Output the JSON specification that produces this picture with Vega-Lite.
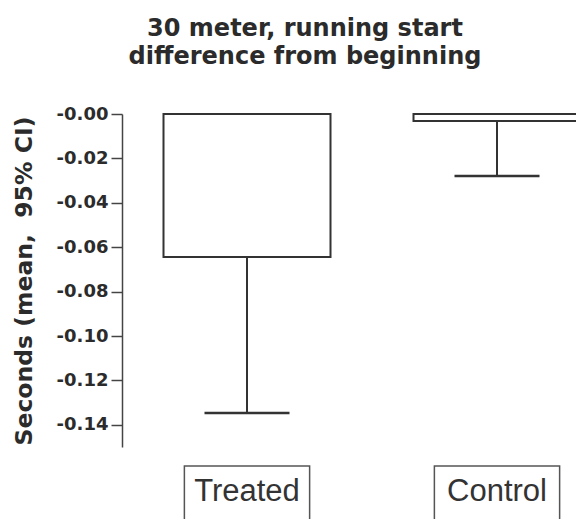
{
  "$schema": "https://vega.github.io/schema/vega-lite/v6.json",
  "width": 454,
  "height": 333,
  "autosize": {"type": "none"},
  "padding": {"left": 122, "top": 114, "right": 0, "bottom": 72},
  "background": "white",
  "config": {"view": {"stroke": null}},
  "title": {
    "text": ["30 meter, running start", "difference from beginning"],
    "font": "DejaVu Sans",
    "fontSize": 24,
    "fontWeight": "bold",
    "color": "#2b2b2b",
    "lineHeight": 28,
    "anchor": "middle",
    "dx": -44,
    "offset": 36
  },
  "data": {
    "values": [
      {"group": "Treated", "mean": -0.0644, "lower": -0.1347},
      {"group": "Control", "mean": -0.0032, "lower": -0.0279}
    ]
  },
  "encoding": {
    "x": {
      "field": "group",
      "type": "nominal",
      "sort": ["Treated", "Control"],
      "scale": {"range": [0, 500], "paddingInner": 0.332, "paddingOuter": 0.166},
      "axis": {
        "title": null,
        "domain": false,
        "ticks": false,
        "tickSize": 0,
        "labelAngle": 0,
        "labelFont": "Liberation Sans",
        "labelFontSize": 31,
        "labelColor": "#333333",
        "labelBaseline": "alphabetic",
        "labelPadding": 53,
        "zindex": 2
      }
    }
  },
  "layer": [
    {
      "mark": {"type": "bar", "fill": "white", "stroke": "#333333", "strokeWidth": 2},
      "encoding": {
        "y": {
          "field": "mean",
          "type": "quantitative",
          "scale": {"domain": [-0.15, 0], "nice": false, "zero": false},
          "axis": {
            "title": "Seconds (mean, \u00a095% CI)",
            "titleFont": "DejaVu Sans",
            "titleFontSize": 23.5,
            "titleFontWeight": "bold",
            "titleColor": "#2b2b2b",
            "titlePadding": 20,
            "values": [0, -0.02, -0.04, -0.06, -0.08, -0.1, -0.12, -0.14],
            "labelExpr": "datum.value == 0 ? '-0.00' : '-' + format(-datum.value, '.2f')",
            "labelFont": "DejaVu Sans",
            "labelFontSize": 18,
            "labelFontWeight": "bold",
            "labelColor": "#2b2b2b",
            "labelPadding": 3,
            "tickSize": 11,
            "tickColor": "#444444",
            "tickWidth": 1.5,
            "domainColor": "#444444",
            "domainWidth": 1.5,
            "grid": false
          }
        }
      }
    },
    {
      "mark": {"type": "rule", "stroke": "#333333", "strokeWidth": 2},
      "encoding": {
        "y": {"field": "mean", "type": "quantitative"},
        "y2": {"field": "lower"}
      }
    },
    {
      "mark": {"type": "tick", "color": "#333333", "opacity": 1, "size": 85, "thickness": 2.5, "orient": "horizontal"},
      "encoding": {
        "y": {"field": "lower", "type": "quantitative"}
      }
    },
    {
      "mark": {"type": "bar", "fill": "white", "stroke": "#555555", "strokeWidth": 1.5, "width": {"band": 0.75}},
      "encoding": {
        "y": {"datum": -0.1586},
        "y2": {"datum": -0.2}
      }
    }
  ]
}
